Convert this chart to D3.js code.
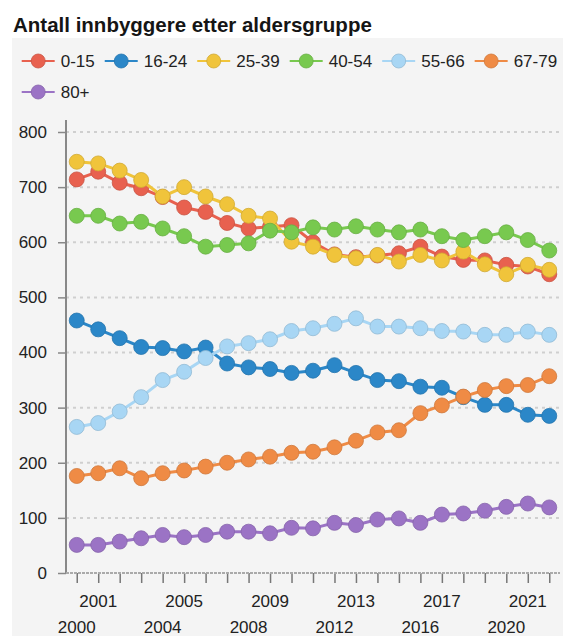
<!DOCTYPE html>
<html>
<head>
<meta charset="utf-8">
<script src="https://cdn.jsdelivr.net/npm/d3@7/dist/d3.min.js"></script>
<style>
  body { margin: 0; background: #fff; }
  svg { display: block; font-family: "Liberation Sans", Arial, sans-serif; }
</style>
</head>
<body>
<svg width="563" height="636"></svg>
<script>
// canvas size
const width = 563
const height = 636

// data
const years = d3.range(2000, 2023)
const groups = ["0-15", "16-24", "25-39", "40-54", "55-66", "67-79", "80+"]
const colors = ["#e8614f", "#2b87c8", "#f0c43b", "#78c94f", "#a8d6f4", "#ef8b45", "#9b73c5"]
const yTicks = [0, 100, 200, 300, 400, 500, 600, 700, 800]

const v0_15  = [714, 728, 708, 698, 682, 663, 655, 635, 625, 628, 631, 600, 578, 573, 576, 580, 592, 574, 568, 567, 559, 556, 542]
const v16_24 = [458, 442, 426, 410, 408, 402, 409, 380, 373, 370, 363, 367, 377, 363, 350, 348, 338, 336, 319, 305, 305, 287, 285]
const v25_39 = [746, 743, 730, 713, 683, 700, 683, 669, 648, 643, 601, 592, 577, 571, 577, 565, 577, 567, 583, 560, 542, 559, 550]
const v40_54 = [648, 648, 634, 637, 625, 611, 592, 595, 598, 621, 618, 627, 623, 629, 623, 618, 623, 611, 604, 611, 618, 604, 585]
const v55_66 = [265, 272, 293, 319, 350, 365, 390, 411, 417, 424, 439, 444, 452, 462, 447, 447, 444, 439, 438, 432, 432, 438, 432]
const v67_79 = [176, 181, 190, 172, 181, 186, 193, 200, 206, 211, 218, 220, 228, 240, 255, 259, 290, 304, 320, 332, 339, 341, 357]
const v80    = [51, 51, 57, 63, 69, 65, 69, 75, 75, 72, 82, 81, 91, 87, 97, 99, 91, 106, 108, 113, 120, 126, 119]

const seriesValues = [v0_15, v16_24, v25_39, v40_54, v55_66, v67_79, v80]

var svg = d3.select("svg")

// plot area (note: "top" is taken by window.top)
var plotLeft = 66, plotRight = 560, plotTop = 120, plotBottom = 573

var x = d3.scalePoint().domain(years).range([plotLeft, plotRight]).padding(0.5)
var y = d3.scaleLinear().domain([0, 800]).range([plotBottom, 132])

// grey panel behind legend + chart
svg.append("rect")
  .attr("x", 12).attr("y", 38)
  .attr("width", width - 12).attr("height", height - 38)
  .style("fill", "#f4f4f4")

svg.append("text")
  .attr("x", 13).attr("y", 31.5)
  .attr("font-size", "20.5px")
  .attr("font-weight", "bold")
  .style("fill", "#151515")
  .text("Antall innbyggere etter aldersgruppe")

// legend, flows left to right and wraps
var lx = 21.7, ly = 61
groups.forEach(function(g, i) {
  if (lx + 39 + 44 > width) { lx = 21.7; ly += 31 }
  var item = svg.append("g").attr("transform", "translate(" + lx + "," + ly + ")")
  item.append("line")
    .attr("x1", 0).attr("x2", 33)
    .style("stroke", colors[i]).style("stroke-width", 2)
  item.append("circle")
    .attr("cx", 16.5).attr("r", 7)
    .style("fill", colors[i])
    .style("stroke", d3.color(colors[i]).darker(0.4))
    .style("stroke-width", 0.8)
  var t = item.append("text")
    .attr("x", 39).attr("dy", "0.36em")
    .attr("font-size", "17px")
    .style("fill", "#222")
    .text(g)
  lx += 39 + t.node().getComputedTextLength() + 10
})

// gridlines
svg.append("g").selectAll("line")
  .data(yTicks.filter(d => d > 0))
  .enter().append("line")
  .attr("x1", plotLeft).attr("x2", plotRight)
  .attr("y1", d => y(d)).attr("y2", d => y(d))
  .style("stroke", "#cfcfcf")
  .style("stroke-width", 2)
  .style("stroke-dasharray", "3,4")

// y axis
var yAxis = svg.append("g")
  .attr("transform", "translate(" + plotLeft + ",0)")
  .call(d3.axisLeft(y).tickValues(yTicks).tickSize(8).tickPadding(11))
yAxis.select(".domain").remove()
yAxis.selectAll(".tick line").style("stroke", "#888").style("stroke-width", 1.5)
yAxis.selectAll(".tick text")
  .attr("font-size", "17px")
  .attr("font-family", "Liberation Sans, Arial, sans-serif")
  .style("fill", "#222")
svg.append("line")
  .attr("x1", plotLeft).attr("x2", plotLeft)
  .attr("y1", plotTop).attr("y2", plotBottom)
  .style("stroke", "#888").style("stroke-width", 2)

// x axis, labels every 4 years on two staggered rows
var xAxis = svg.append("g")
  .attr("transform", "translate(0," + plotBottom + ")")
  .call(d3.axisBottom(x).tickSize(10).tickFormat(""))
xAxis.select(".domain").remove()
xAxis.selectAll(".tick line").style("stroke", "#777").style("stroke-width", 1.5)
svg.append("line")
  .attr("x1", plotLeft).attr("x2", plotRight)
  .attr("y1", plotBottom).attr("y2", plotBottom)
  .style("stroke", "#aaa").style("stroke-width", 2)
  .style("stroke-dasharray", "3,1")

svg.append("g").selectAll("text")
  .data(years.filter(d => (d - 2000) % 4 == 0 || (d - 2001) % 4 == 0))
  .enter().append("text")
  .attr("x", d => x(d))
  .attr("y", d => (d - 2000) % 4 == 0 ? 632.5 : 607)
  .attr("text-anchor", "middle")
  .attr("font-size", "17px")
  .style("fill", "#222")
  .text(d => d)

// series: line then markers, in legend order
var line = d3.line().x((d, i) => x(years[i])).y(d => y(d))

seriesValues.forEach(function(vals, i) {
  var g = svg.append("g")
  g.append("path")
    .datum(vals)
    .attr("d", line)
    .style("fill", "none")
    .style("stroke", colors[i])
    .style("stroke-width", 3)
  g.selectAll("circle")
    .data(vals)
    .enter().append("circle")
    .attr("cx", (d, j) => x(years[j]))
    .attr("cy", d => y(d))
    .attr("r", 7.5)
    .style("fill", colors[i])
    .style("stroke", d3.color(colors[i]).darker(0.4))
    .style("stroke-width", 0.8)
})
</script>
</body>
</html>
